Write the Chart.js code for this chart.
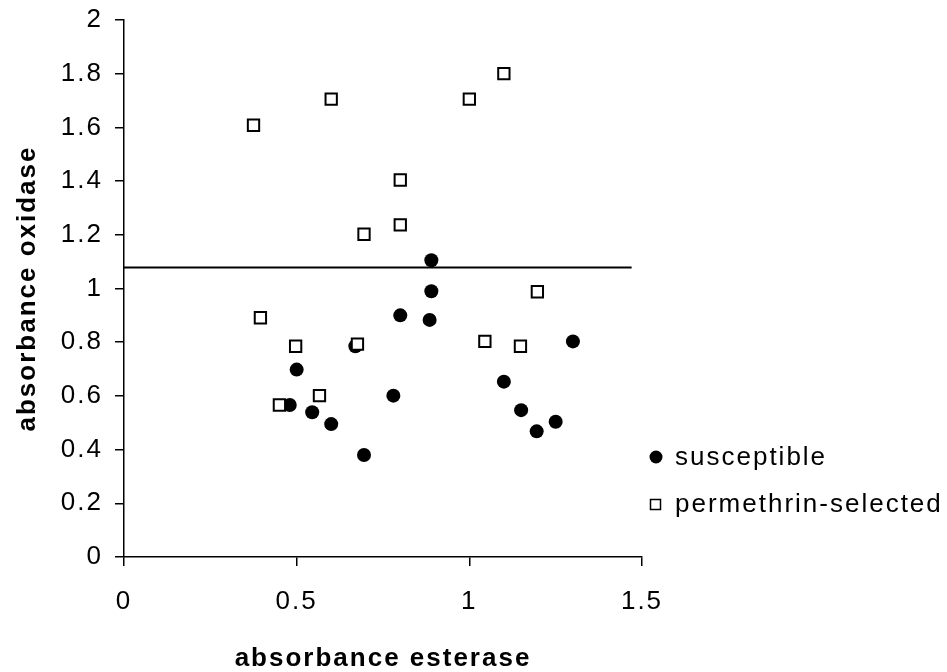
<!DOCTYPE html>
<html>
<head>
<meta charset="utf-8">
<script src="https://cdn.jsdelivr.net/npm/chart.js@4/dist/chart.umd.min.js"></script>
<style>
  body { margin: 0; background: #fff; }
</style>
</head>
<body>
<canvas id="myChart" width="947" height="672"></canvas>
<script>
// values
const susceptibleX = [0.89, 0.89, 0.80, 0.885, 0.67, 1.30, 0.50, 1.10, 0.78, 0.48, 0.545, 0.60, 1.15, 1.25, 1.195, 0.695];
const susceptibleY = [1.105, 0.99, 0.90, 0.883, 0.785, 0.803, 0.698, 0.653, 0.601, 0.566, 0.539, 0.495, 0.547, 0.504, 0.468, 0.38];

const selectedX = [1.10, 0.60, 1.00, 0.375, 0.80, 0.80, 0.695, 1.197, 0.395, 0.497, 0.676, 1.045, 1.148, 0.566, 0.45];
const selectedY = [1.80, 1.705, 1.705, 1.608, 1.404, 1.237, 1.202, 0.988, 0.891, 0.785, 0.793, 0.803, 0.785, 0.601, 0.566];

const thresholdX = [0, 1.47];
const thresholdY = [1.078, 1.078];

const xTickValues = [0, 0.5, 1, 1.5];
const yTickValues = [0, 0.2, 0.4, 0.6, 0.8, 1, 1.2, 1.4, 1.6, 1.8, 2];

const seriesNames = ["susceptible", "permethrin-selected"];
const xTitle = "absorbance esterase";
const yTitle = "absorbance oxidase";

const toPoints = (xs, ys) => xs.map((x, i) => ({ x: x, y: ys[i] }));

Chart.defaults.font.family = "'Liberation Sans', Arial, sans-serif";
Chart.defaults.color = "#000";

const spacing = {
  id: "spacing",
  beforeDraw(chart) {
    chart.ctx.letterSpacing = "2px";
  }
};

// legend on the right, drawn by hand like the original
const sideLegend = {
  id: "sideLegend",
  afterDraw(chart) {
    const ctx = chart.ctx;
    ctx.save();
    ctx.letterSpacing = "2px";
    ctx.font = "26px 'Liberation Sans', Arial, sans-serif";
    ctx.fillStyle = "#000";
    ctx.textAlign = "left";
    ctx.textBaseline = "alphabetic";

    ctx.beginPath();
    ctx.arc(656, 457, 6.5, 0, Math.PI * 2);
    ctx.fill();
    ctx.fillText(seriesNames[0], 675, 465);

    ctx.lineWidth = 1.5;
    ctx.strokeStyle = "#000";
    ctx.fillStyle = "#fff";
    ctx.fillRect(650.5, 499.5, 10, 10);
    ctx.strokeRect(650.5, 499.5, 10, 10);
    ctx.fillStyle = "#000";
    ctx.fillText(seriesNames[1], 675, 512);
    ctx.restore();
  }
};

const ctx = document.getElementById("myChart").getContext("2d");
const myChart = new Chart(ctx, {
  type: "scatter",
  data: {
    datasets: [
      {
        label: seriesNames[1],
        data: toPoints(selectedX, selectedY),
        pointStyle: "rect",
        radius: 8,
        backgroundColor: "#fff",
        borderColor: "#000",
        borderWidth: 2,
        order: 1
      },
      {
        label: seriesNames[0],
        data: toPoints(susceptibleX, susceptibleY),
        pointStyle: "circle",
        radius: 7,
        backgroundColor: "#000",
        borderColor: "#000",
        borderWidth: 0,
        order: 2
      },
      {
        label: "threshold",
        type: "line",
        data: toPoints(thresholdX, thresholdY),
        showLine: true,
        pointRadius: 0,
        borderColor: "#000",
        borderWidth: 2,
        fill: false,
        order: 3
      }
    ]
  },
  options: {
    responsive: false,
    devicePixelRatio: 1,
    animation: false,
    layout: { padding: { top: 20, right: 305, left: 0, bottom: 0 } },
    plugins: {
      legend: { display: false },
      tooltip: { enabled: false }
    },
    scales: {
      x: {
        type: "linear",
        min: 0,
        max: 1.5,
        afterFit: (scale) => { scale.height = 115; scale.paddingLeft = 0; scale.paddingRight = 0; },
        afterBuildTicks: (scale) => { scale.ticks = xTickValues.map(v => ({ value: v })); },
        grid: { display: true, drawOnChartArea: false, drawTicks: true, tickLength: 9, color: "#000", lineWidth: 1.5 },
        border: { display: true, color: "#000", width: 1.5 },
        ticks: { font: { size: 26 }, padding: 20, maxRotation: 0, callback: (v) => String(v) },
        title: { display: true, text: xTitle, font: { size: 26, weight: "bold" }, padding: { top: 0, bottom: -2 } }
      },
      y: {
        type: "linear",
        min: 0,
        max: 2,
        afterFit: (scale) => { scale.width = 124; scale.paddingTop = 0; scale.paddingBottom = 0; },
        afterBuildTicks: (scale) => { scale.ticks = yTickValues.map(v => ({ value: v })); },
        grid: { display: true, drawOnChartArea: false, drawTicks: true, tickLength: 9, color: "#000", lineWidth: 1.5 },
        border: { display: true, color: "#000", width: 1.5 },
        ticks: { font: { size: 26 }, padding: 12, callback: (v) => String(v) },
        title: { display: true, text: yTitle, font: { size: 26, weight: "bold" }, padding: { top: 12, bottom: 0 } }
      }
    }
  },
  plugins: [spacing, sideLegend]
});
</script>
</body>
</html>
